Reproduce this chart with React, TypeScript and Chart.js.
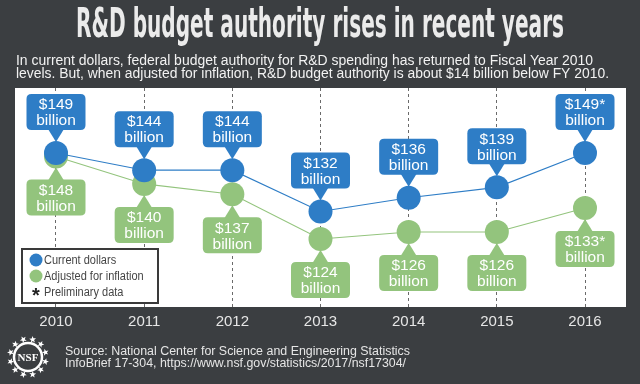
import React, { useEffect, useRef } from "react";
import { Chart, registerables } from "chart.js";

Chart.register(...registerables);

// ---- data ----
const years = [2010, 2011, 2012, 2013, 2014, 2015, 2016];
const currentDollars = [149, 144, 144, 132, 136, 139, 149];
const adjustedForInflation = [148, 140, 137, 124, 126, 126, 133];
const preliminaryYears = [2016];
const seriesLabels = ["Current dollars", "Adjusted for inflation"];
const preliminaryLabel = "Preliminary data";

const titleText = "R&D budget authority rises in recent years";
const subtitleLines = [
  "In current dollars, federal budget authority for R&D spending has returned to Fiscal Year 2010",
  "levels. But, when adjusted for inflation, R&D budget authority is about $14 billion below FY 2010.",
];
const sourceLines = [
  "Source: National Center for Science and Engineering Statistics",
  "InfoBrief 17-304, https://www.nsf.gov/statistics/2017/nsf17304/",
];

// ---- styles ----
const BG = "#3b3e41";
const BLUE = "#2e7dc6";
const GREEN = "#93c47d";
const SANS = '"Liberation Sans", Arial, sans-serif';

function fitText(ctx: CanvasRenderingContext2D, text: string, x: number, y: number, width: number) {
  const m = ctx.measureText(text).width;
  const sx = width / m;
  ctx.save();
  ctx.translate(x, y);
  ctx.scale(sx, 1);
  ctx.textAlign = "left";
  ctx.fillText(text, 0, 0);
  ctx.restore();
}

function squeezeText(ctx: CanvasRenderingContext2D, text: string, x: number, y: number, sx: number) {
  ctx.save();
  ctx.translate(x, y);
  ctx.scale(sx, 1);
  ctx.textAlign = "left";
  ctx.fillText(text, 0, 0);
  ctx.restore();
}

function roundRect(ctx: CanvasRenderingContext2D, x: number, y: number, w: number, h: number, r: number) {
  ctx.beginPath();
  ctx.moveTo(x + r, y);
  ctx.lineTo(x + w - r, y);
  ctx.quadraticCurveTo(x + w, y, x + w, y + r);
  ctx.lineTo(x + w, y + h - r);
  ctx.quadraticCurveTo(x + w, y + h, x + w - r, y + h);
  ctx.lineTo(x + r, y + h);
  ctx.quadraticCurveTo(x, y + h, x, y + h - r);
  ctx.lineTo(x, y + r);
  ctx.quadraticCurveTo(x, y, x + r, y);
  ctx.closePath();
}

function star(ctx: CanvasRenderingContext2D, cx: number, cy: number, R: number, r: number, rot: number) {
  ctx.beginPath();
  for (let k = 0; k < 10; k++) {
    const a = rot + (k * Math.PI) / 5 - Math.PI / 2;
    const rad = k % 2 === 0 ? R : r;
    const px = cx + Math.cos(a) * rad;
    const py = cy + Math.sin(a) * rad;
    if (k === 0) ctx.moveTo(px, py);
    else ctx.lineTo(px, py);
  }
  ctx.closePath();
  ctx.fill();
}

const backgroundPlugin = {
  id: "bgPlugin",
  beforeDraw(chart: any) {
    const { ctx, chartArea } = chart;
    ctx.save();
    ctx.fillStyle = BG;
    ctx.fillRect(0, 0, chart.width, chart.height);
    ctx.fillStyle = "#ffffff";
    ctx.fillRect(chartArea.left, chartArea.top, chartArea.right - chartArea.left, chartArea.bottom - chartArea.top);
    ctx.restore();
  },
};

const calloutPlugin = {
  id: "callouts",
  afterDatasetsDraw(chart: any) {
    const ctx = chart.ctx as CanvasRenderingContext2D;
    ctx.save();
    chart.data.datasets.forEach((ds: any, di: number) => {
      const meta = chart.getDatasetMeta(di);
      const above = di === 0;
      const color = ds.backgroundColor;
      meta.data.forEach((pt: any, i: number) => {
        const x = pt.x;
        const y = pt.y;
        const v = ds.data[i].y;
        const mark = preliminaryYears.includes(years[i]) ? "*" : "";
        const w = 59, h = 36, gap = 23, half = 8, r = 5;
        const top = above ? y - gap - h : y + gap;
        ctx.fillStyle = color;
        roundRect(ctx, x - w / 2, top, w, h, r);
        ctx.fill();
        ctx.beginPath();
        if (above) {
          ctx.moveTo(x - half, top + h - 1);
          ctx.lineTo(x + half, top + h - 1);
          ctx.lineTo(x, y - 11);
        } else {
          ctx.moveTo(x - half, top + 1);
          ctx.lineTo(x + half, top + 1);
          ctx.lineTo(x, y + 11);
        }
        ctx.closePath();
        ctx.fill();
        ctx.fillStyle = "#ffffff";
        ctx.font = `15.5px ${SANS}`;
        ctx.textAlign = "center";
        ctx.textBaseline = "middle";
        ctx.fillText(`$${v}${mark}`, x, top + 11);
        ctx.fillText("billion", x, top + 27);
      });
    });
    ctx.restore();
  },
};

const legendPlugin = {
  id: "customLegend",
  afterDatasetsDraw(chart: any) {
    const ctx = chart.ctx as CanvasRenderingContext2D;
    const { chartArea } = chart;
    const bx = chartArea.left + 7;
    const by = chartArea.bottom - 58;
    const bw = 136, bh = 54;
    const squeeze = 0.88;
    ctx.save();
    ctx.fillStyle = "#ffffff";
    ctx.fillRect(bx, by, bw, bh);
    ctx.strokeStyle = "#3a3a3a";
    ctx.lineWidth = 2;
    ctx.strokeRect(bx, by, bw, bh);
    ctx.font = `12.5px ${SANS}`;
    ctx.textBaseline = "middle";
    const rows = [by + 11, by + 27, by + 43];
    chart.data.datasets.forEach((ds: any, di: number) => {
      ctx.fillStyle = ds.backgroundColor;
      ctx.beginPath();
      ctx.arc(bx + 14, rows[di], 6.5, 0, Math.PI * 2);
      ctx.fill();
      ctx.fillStyle = "#454545";
      squeezeText(ctx, ds.label, bx + 22, rows[di] + 0.5, squeeze);
    });
    ctx.fillStyle = "#222222";
    ctx.font = `bold 20px ${SANS}`;
    ctx.textAlign = "center";
    ctx.fillText("*", bx + 14, rows[2] + 4);
    ctx.font = `12.5px ${SANS}`;
    ctx.fillStyle = "#454545";
    squeezeText(ctx, preliminaryLabel, bx + 22, rows[2] + 0.5, squeeze);
    ctx.restore();
  },
};

const textPlugin = {
  id: "texts",
  afterDraw(chart: any) {
    const ctx = chart.ctx as CanvasRenderingContext2D;
    ctx.save();
    ctx.textBaseline = "alphabetic";
    // title
    ctx.fillStyle = "#ebebeb";
    ctx.font = `bold 40px "Liberation Sans Narrow", "DejaVu Sans Condensed", sans-serif`;
    fitText(ctx, titleText, 76, 37, 488);
    // subtitle
    ctx.fillStyle = "#f2f2f2";
    ctx.font = `14px ${SANS}`;
    fitText(ctx, subtitleLines[0], 16, 65, 577);
    fitText(ctx, subtitleLines[1], 16, 77.5, 593);
    // source
    ctx.fillStyle = "#e6e6e6";
    ctx.font = `12px ${SANS}`;
    fitText(ctx, sourceLines[0], 65, 355, 345);
    fitText(ctx, sourceLines[1], 65, 367, 341);
    // NSF logo
    const cx = 28, cy = 357;
    ctx.fillStyle = "#ffffff";
    ctx.strokeStyle = "#ffffff";
    for (let k = 0; k < 12; k++) {
      const a = (k * Math.PI * 2) / 12 + Math.PI / 12;
      star(ctx, cx + Math.cos(a) * 18, cy + Math.sin(a) * 18, 3.6, 1.5, a);
    }
    ctx.lineWidth = 2.5;
    ctx.beginPath();
    ctx.arc(cx, cy, 14, 0, Math.PI * 2);
    ctx.stroke();
    ctx.font = `bold 11px "Liberation Serif", "DejaVu Serif", serif`;
    ctx.textAlign = "center";
    ctx.textBaseline = "middle";
    ctx.fillText("NSF", cx, cy + 1);
    ctx.restore();
  },
};

export default function App() {
  const ref = useRef<HTMLCanvasElement | null>(null);
  useEffect(() => {
    if (!ref.current) return;
    const chart = new Chart(ref.current, {
      type: "line",
      data: {
        datasets: [
          {
            label: seriesLabels[0],
            data: years.map((yr, i) => ({ x: yr, y: currentDollars[i] })),
            borderColor: BLUE,
            backgroundColor: BLUE,
            pointBackgroundColor: BLUE,
            pointRadius: 12,
            pointHoverRadius: 12,
            pointBorderWidth: 0,
            borderWidth: 1.1,
            tension: 0,
            fill: false,
          },
          {
            label: seriesLabels[1],
            data: years.map((yr, i) => ({ x: yr, y: adjustedForInflation[i] })),
            borderColor: GREEN,
            backgroundColor: GREEN,
            pointBackgroundColor: GREEN,
            pointRadius: 12,
            pointHoverRadius: 12,
            pointBorderWidth: 0,
            borderWidth: 1.1,
            tension: 0,
            fill: false,
          },
        ],
      },
      options: {
        responsive: false,
        animation: false,
        events: [],
        layout: { padding: { left: 15, right: 14, top: 88, bottom: 0 } },
        plugins: {
          legend: { display: false },
          tooltip: { enabled: false },
          title: { display: false },
        },
        scales: {
          x: {
            type: "linear",
            min: 2009.535,
            max: 2016.465,
            afterBuildTicks: (s: any) => {
              s.ticks = years.map((v) => ({ value: v }));
            },
            afterFit: (s: any) => {
              s.height = 77;
            },
            ticks: {
              color: "#e6e6e6",
              font: { family: SANS, size: 15 },
              padding: 6,
              callback: (v: any) => String(v),
            },
            grid: { color: "#6a6a6a", lineWidth: 1, drawTicks: false },
            border: { display: false, dash: [3, 3] },
          },
          y: { display: false, min: 104.2, max: 167.9 },
        },
      },
      plugins: [backgroundPlugin, calloutPlugin, legendPlugin, textPlugin],
    } as any);
    return () => chart.destroy();
  }, []);
  return (
    <div style={{ position: "fixed", left: 0, top: 0, width: 640, height: 384, background: BG }}>
      <canvas ref={ref} width={640} height={384} style={{ width: 640, height: 384, display: "block" }} />
    </div>
  );
}
